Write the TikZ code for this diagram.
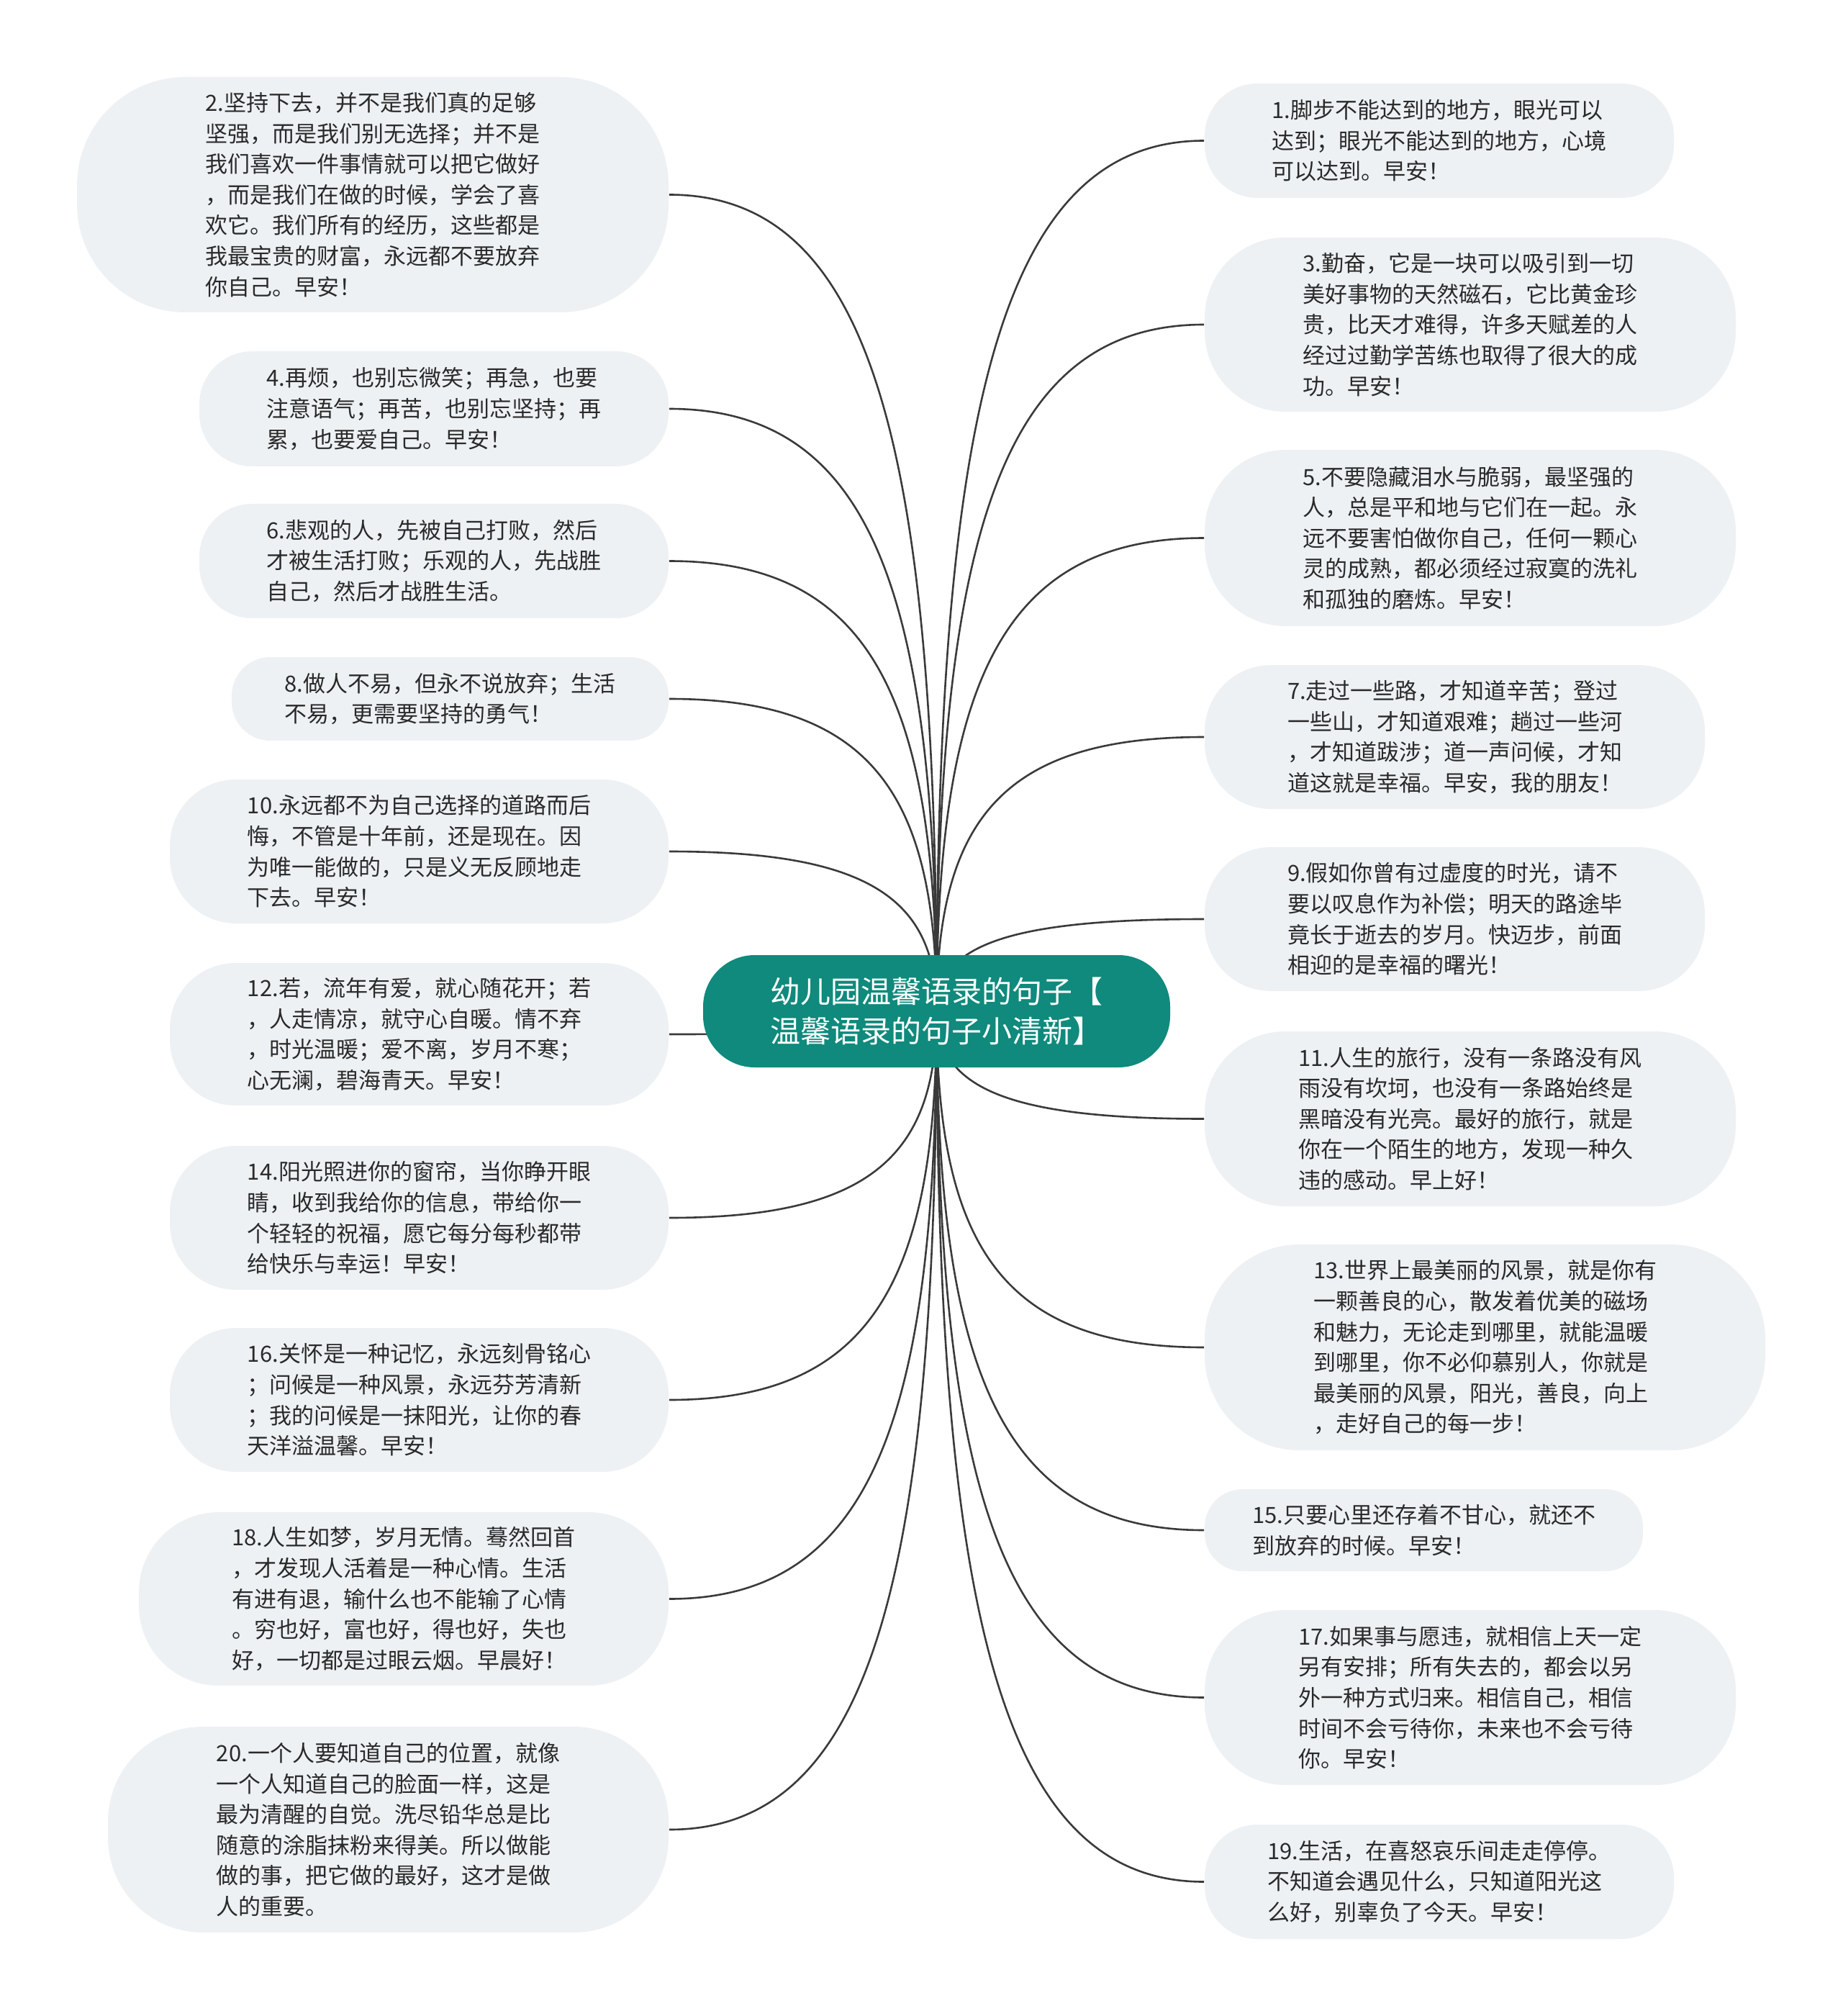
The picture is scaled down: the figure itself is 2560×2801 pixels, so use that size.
\documentclass[tikz,border=0pt]{standalone}
\usepackage{fontspec}
\newfontfamily\cjk{Noto Sans CJK SC}
\usetikzlibrary{backgrounds,calc}
\definecolor{bubble}{HTML}{EEF1F4}
\definecolor{teal0}{HTML}{0F8A7C}
\definecolor{txt}{HTML}{2A2A2A}
\definecolor{wire}{HTML}{3A3A3A}
\tikzset{
  leaf/.style 2 args={shape=rectangle, fill=bubble, text=txt, align=left, inner sep=0pt,
    minimum width=#1*0.25pt, minimum height=#2*0.25pt, rounded corners=#2*0.115pt,
    font=\cjk\fontsize{7.75pt}{10.65pt}\selectfont},
  rootbox/.style={shape=rectangle, fill=teal0, text=white, align=left, inner sep=0pt,
    minimum width=649*0.25pt, minimum height=156*0.25pt, rounded corners=156*0.115pt,
    font=\cjk\fontsize{10.5pt}{13.8pt}\selectfont},
  conn/.style={draw=wire, line width=0.65pt}
}
\begin{document}
\begin{tikzpicture}[x=0.25pt,y=-0.25pt]
\useasboundingbox (0,0) rectangle (2560,2801);

\node[rootbox] (root) at (1301.5,1405) {幼儿园温馨语录的句子【\\温馨语录的句子小清新】};

% left side
\node[leaf={822}{327}] (n2) at (518,270.5) {2.坚持下去，并不是我们真的足够\\坚强，而是我们别无选择；并不是\\我们喜欢一件事情就可以把它做好\\，而是我们在做的时候，学会了喜\\欢它。我们所有的经历，这些都是\\我最宝贵的财富，永远都不要放弃\\你自己。早安！};
\node[leaf={652}{160}] (n4) at (603,568) {4.再烦，也别忘微笑；再急，也要\\注意语气；再苦，也别忘坚持；再\\累，也要爱自己。早安！};
\node[leaf={652}{159}] (n6) at (603,779.5) {6.悲观的人，先被自己打败，然后\\才被生活打败；乐观的人，先战胜\\自己，然后才战胜生活。};
\node[leaf={607}{116}] (n8) at (625.5,971) {8.做人不易，但永不说放弃；生活\\不易，更需要坚持的勇气！};
\node[leaf={693}{200}] (n10) at (582.5,1183) {10.永远都不为自己选择的道路而后\\悔，不管是十年前，还是现在。因\\为唯一能做的，只是义无反顾地走\\下去。早安！};
\node[leaf={693}{198}] (n12) at (582.5,1437) {12.若，流年有爱，就心随花开；若\\，人走情凉，就守心自暖。情不弃\\，时光温暖；爱不离，岁月不寒；\\心无澜，碧海青天。早安！};
\node[leaf={693}{200}] (n14) at (582.5,1692) {14.阳光照进你的窗帘，当你睁开眼\\睛，收到我给你的信息，带给你一\\个轻轻的祝福，愿它每分每秒都带\\给快乐与幸运！早安！};
\node[leaf={693}{200}] (n16) at (582.5,1945) {16.关怀是一种记忆，永远刻骨铭心\\；问候是一种风景，永远芬芳清新\\；我的问候是一抹阳光，让你的春\\天洋溢温馨。早安！};
\node[leaf={736}{241}] (n18) at (561,2221.5) {18.人生如梦，岁月无情。蓦然回首\\，才发现人活着是一种心情。生活\\有进有退，输什么也不能输了心情\\。穷也好，富也好，得也好，失也\\好，一切都是过眼云烟。早晨好！};
\node[leaf={779}{286}] (n20) at (539.5,2542) {20.一个人要知道自己的位置，就像\\一个人知道自己的脸面一样，这是\\最为清醒的自觉。洗尽铅华总是比\\随意的涂脂抹粉来得美。所以做能\\做的事，把它做的最好，这才是做\\人的重要。};

% right side
\node[leaf={652}{159}] (n1) at (2000,195.5) {1.脚步不能达到的地方，眼光可以\\达到；眼光不能达到的地方，心境\\可以达到。早安！};
\node[leaf={738}{242}] (n3) at (2043,451) {3.勤奋，它是一块可以吸引到一切\\美好事物的天然磁石，它比黄金珍\\贵，比天才难得，许多天赋差的人\\经过过勤学苦练也取得了很大的成\\功。早安！};
\node[leaf={738}{245}] (n5) at (2043,747.5) {5.不要隐藏泪水与脆弱，最坚强的\\人，总是平和地与它们在一起。永\\远不要害怕做你自己，任何一颗心\\灵的成熟，都必须经过寂寞的洗礼\\和孤独的磨炼。早安！};
\node[leaf={695}{200}] (n7) at (2021.5,1024) {7.走过一些路，才知道辛苦；登过\\一些山，才知道艰难；趟过一些河\\，才知道跋涉；道一声问候，才知\\道这就是幸福。早安，我的朋友！};
\node[leaf={695}{200}] (n9) at (2021.5,1277) {9.假如你曾有过虚度的时光，请不\\要以叹息作为补偿；明天的路途毕\\竟长于逝去的岁月。快迈步，前面\\相迎的是幸福的曙光！};
\node[leaf={738}{243}] (n11) at (2043,1554.5) {11.人生的旅行，没有一条路没有风\\雨没有坎坷，也没有一条路始终是\\黑暗没有光亮。最好的旅行，就是\\你在一个陌生的地方，发现一种久\\违的感动。早上好！};
\node[leaf={779}{286}] (n13) at (2063.5,1872) {13.世界上最美丽的风景，就是你有\\一颗善良的心，散发着优美的磁场\\和魅力，无论走到哪里，就能温暖\\到哪里，你不必仰慕别人，你就是\\最美丽的风景，阳光，善良，向上\\，走好自己的每一步！};
\node[leaf={609}{114}] (n15) at (1978.5,2126) {15.只要心里还存着不甘心，就还不\\到放弃的时候。早安！};
\node[leaf={738}{243}] (n17) at (2043,2358.5) {17.如果事与愿违，就相信上天一定\\另有安排；所有失去的，都会以另\\外一种方式归来。相信自己，相信\\时间不会亏待你，未来也不会亏待\\你。早安！};
\node[leaf={652}{159}] (n19) at (2000,2614.5) {19.生活，在喜怒哀乐间走走停停。\\不知道会遇见什么，只知道阳光这\\么好，别辜负了今天。早安！};

\begin{scope}[on background layer]
\foreach \n in {n2,n4,n6,n8,n10,n12,n14,n16,n18,n20}{
  \draw[conn] (root.center) .. controls ($(root.center)!0.7!(root.center |- \n.east)$) and ($(root.center |- \n.east)!0.25!(\n.east)$) .. (\n.east);
}
\foreach \n in {n1,n3,n5,n7,n9,n11,n13,n15,n17,n19}{
  \draw[conn] (root.center) .. controls ($(root.center)!0.7!(root.center |- \n.west)$) and ($(root.center |- \n.west)!0.25!(\n.west)$) .. (\n.west);
}
\end{scope}
\end{tikzpicture}
\end{document}
